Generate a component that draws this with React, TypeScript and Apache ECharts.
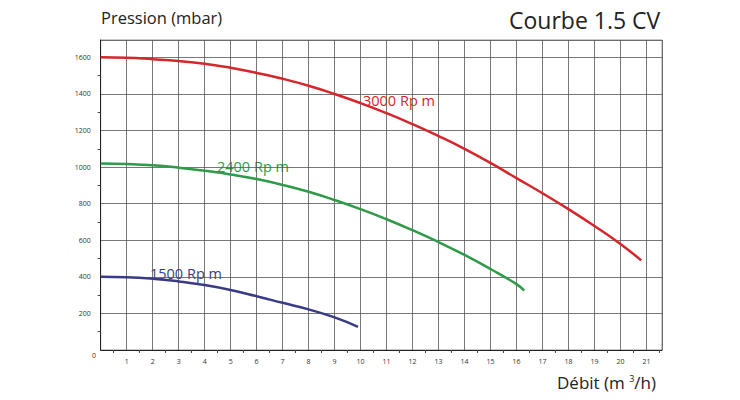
import React, { useEffect, useRef } from "react";
import * as echarts from "echarts";

const title = "Courbe 1.5 CV";
const yAxisName = "Pression (mbar)";
const xAxisName = "Débit (m {s|3}/h)";

const rpm3000: [number, number][] = [
  [0, 1600], [1, 1598], [2, 1590], [3, 1580], [4, 1565], [5, 1543], [6, 1515], [7, 1483],
  [8, 1445], [9, 1400], [10, 1350], [11, 1295], [12, 1235], [13, 1170], [14, 1100],
  [15, 1023], [16, 940], [17, 857], [18, 770], [19, 678], [20, 580], [20.8, 490],
];
const rpm2400: [number, number][] = [
  [0, 1020], [1, 1017], [2, 1010], [3, 997], [4, 980], [5, 960], [6, 935], [7, 903],
  [8, 865], [9, 820], [10, 770], [11, 715], [12, 655], [13, 590], [14, 520],
  [15, 443], [16, 360], [16.3, 325],
];
const rpm1500: [number, number][] = [
  [0, 400], [1, 398], [2, 390], [3, 375], [4, 355], [5, 328], [6, 294], [7, 258],
  [8, 222], [9, 178], [9.9, 127],
];
const seriesNames = ["3000 Rp m", "2400 Rp m", "1500 Rp m"];
const seriesColors = ["#d5262b", "#2f9a48", "#3a3b86"];
const font = "'Open Sans', 'Noto Sans', sans-serif";

export default function App() {
  const ref = useRef<HTMLDivElement>(null);
  useEffect(() => {
    document.body.style.margin = "0";
    const chart = echarts.init(ref.current!, null, { renderer: "svg" });
    const mkSeries = (name: string, data: [number, number][], color: string) => ({
      name,
      type: "line",
      data,
      smooth: true,
      showSymbol: false,
      lineStyle: { color, width: 2.5 },
      itemStyle: { color },
    });
    const txt = (text: string, x: number, y: number, size: number, fill: string, extra: any = {}) => ({
      type: "text", x, y,
      style: { text, font: `${size}px ${font}`, fill, verticalAlign: "middle", ...extra },
    });
    chart.setOption({
      animation: false,
      backgroundColor: "#ffffff",
      textStyle: { fontFamily: font },
      grid: { left: 100.7, right: 78, top: 40, bottom: 50 },
      xAxis: {
        type: "value",
        min: 0,
        max: 21.6,
        interval: 1,
        axisLine: { show: true, lineStyle: { color: "#222", width: 1 } },
        axisTick: { show: false },
        minorTick: { show: true, splitNumber: 2, length: 3, lineStyle: { color: "#444" } },
        axisLabel: {
          color: "#333",
          fontSize: 7,
          margin: 8,
          showMaxLabel: false,
          formatter: (v: number) => (v === 0 || v > 21 ? "" : String(v)),
        },
        splitLine: { show: true, lineStyle: { color: "#555", width: 0.8 } },
      },
      yAxis: {
        type: "value",
        min: 0,
        max: 1695,
        interval: 200,
        axisLine: { show: true, lineStyle: { color: "#222", width: 1 } },
        axisTick: { show: false },
        minorTick: { show: true, splitNumber: 2, length: 3, lineStyle: { color: "#444" } },
        axisLabel: {
          color: "#333",
          fontSize: 7,
          margin: 10,
          showMaxLabel: false,
          formatter: (v: number) => (v === 0 || v > 1600 ? "" : String(v)),
        },
        splitLine: { show: true, lineStyle: { color: "#555", width: 0.8 } },
      },
      series: [
        mkSeries(seriesNames[0], rpm3000, seriesColors[0]),
        mkSeries(seriesNames[1], rpm2400, seriesColors[1]),
        mkSeries(seriesNames[2], rpm1500, seriesColors[2]),
      ],
      graphic: [
        { type: "rect", shape: { x: 100.7, y: 40, width: 561.3, height: 310 }, style: { fill: "none", stroke: "#777", lineWidth: 0.8 }, silent: true },
        txt(yAxisName, 101, 17, 16.5, "#222"),
        txt(title, 509, 20, 23, "#222"),
        txt(xAxisName, 557, 382, 17, "#222", {
          rich: { s: { fontSize: 9, fontFamily: font, fill: "#222", verticalAlign: "top", padding: [0, 0, 7, 0] } },
        }),
        txt("0", 92, 355, 7, "#333"),
        txt(seriesNames[0], 363, 100, 14.5, seriesColors[0]),
        txt(seriesNames[1], 217, 166, 14.5, seriesColors[1]),
        txt(seriesNames[2], 150, 273, 14.5, seriesColors[2]),
      ],
    });
    return () => chart.dispose();
  }, []);
  return <div ref={ref} style={{ width: 740, height: 400 }} />;
}
